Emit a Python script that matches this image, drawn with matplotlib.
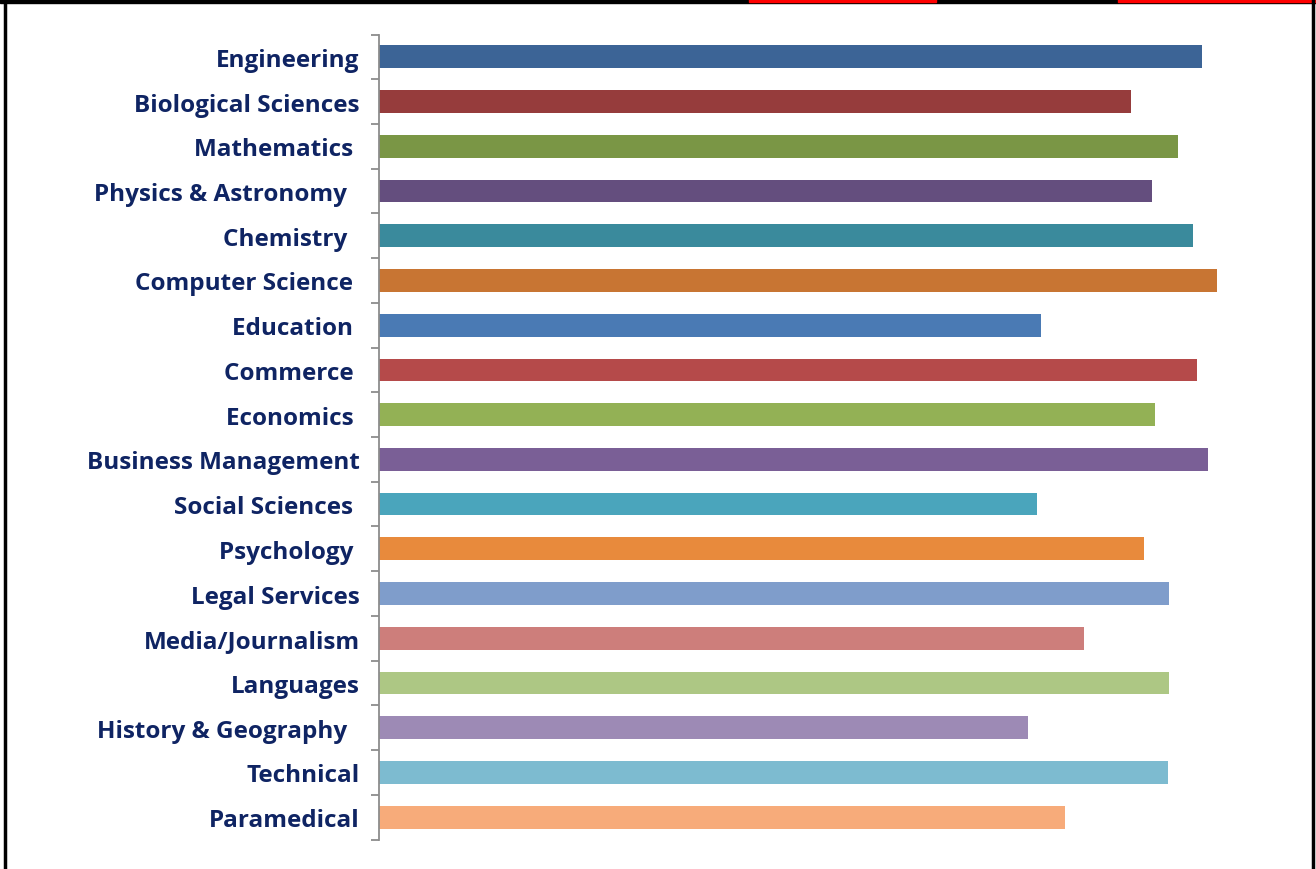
import matplotlib
matplotlib.use("Agg")
import matplotlib.pyplot as plt
from matplotlib.lines import Line2D
from matplotlib.patches import Rectangle
import numpy as np

# subjects, top to bottom (trailing spaces as in the original labels)
subjects = ["Engineering", "Biological Sciences", "Mathematics ", "Physics & Astronomy  ",
            "Chemistry  ", "Computer Science ", "Education ", "Commerce ", "Economics ",
            "Business Management", "Social Sciences ", "Psychology ", "Legal Services",
            "Media/Journalism", "Languages", "History & Geography  ", "Technical", "Paramedical"]
values = [82.3, 75.2, 79.9, 77.3, 81.4, 83.8, 66.2, 81.8, 77.6,
          82.9, 65.8, 76.5, 79.0, 70.5, 79.0, 64.9, 78.9, 68.6]
colors = ["#3C6496", "#963C3C", "#7A9645", "#644E7E", "#3A8A9C", "#C87533",
          "#4A7AB4", "#B54A4A", "#93B155", "#7A5F96", "#4AA5BC", "#E88A3C",
          "#7F9DCB", "#CD7E7B", "#ADC784", "#9D8AB5", "#7DBBD0", "#F7AB7A"]

W, H = 1316, 870
fig = plt.figure(figsize=(W / 100, H / 100), dpi=100)
ax = fig.add_axes([379 / W, 1 - 840.5 / H, 900 / W, 805 / H])

y = np.arange(len(subjects))
ax.barh(y, values, height=0.51, color=colors, clip_on=False)
ax.set_xlim(0, 90)
ax.set_ylim(len(subjects) - 0.5, -0.5)

ax.set_yticks(y)
ax.set_yticklabels(subjects, fontsize=17.5, fontweight="bold", color="#0F2463",
                   family=["Open Sans", "DejaVu Sans"])
ax.tick_params(axis="y", which="major", length=0, pad=14)
ax.set_yticks(np.arange(-0.5, len(subjects) + 0.5, 1), minor=True)
ax.tick_params(axis="y", which="minor", length=6, width=1.3, color="#8C8C8C")
ax.set_xticks([])
for s in ["top", "right", "bottom"]:
    ax.spines[s].set_visible(False)
ax.spines["left"].set_color("#8C8C8C")
ax.spines["left"].set_linewidth(1.3)

# frame and the cropped table strip on top
fig.add_artist(Line2D([5 / W, 5 / W], [0, 1], color="black", lw=2.5))
fig.add_artist(Line2D([1313 / W, 1313 / W], [0, 1], color="black", lw=2.5))
fig.add_artist(Rectangle((0, 1 - 4 / H), 1, 4 / H, color="black"))
fig.add_artist(Rectangle((749 / W, 1 - 3 / H), 187 / W, 3 / H, color="#FF0000"))
fig.add_artist(Rectangle((1118 / W, 1 - 3 / H), 198 / W, 3 / H, color="#FF0000"))

fig.savefig("out.png", dpi=100)
